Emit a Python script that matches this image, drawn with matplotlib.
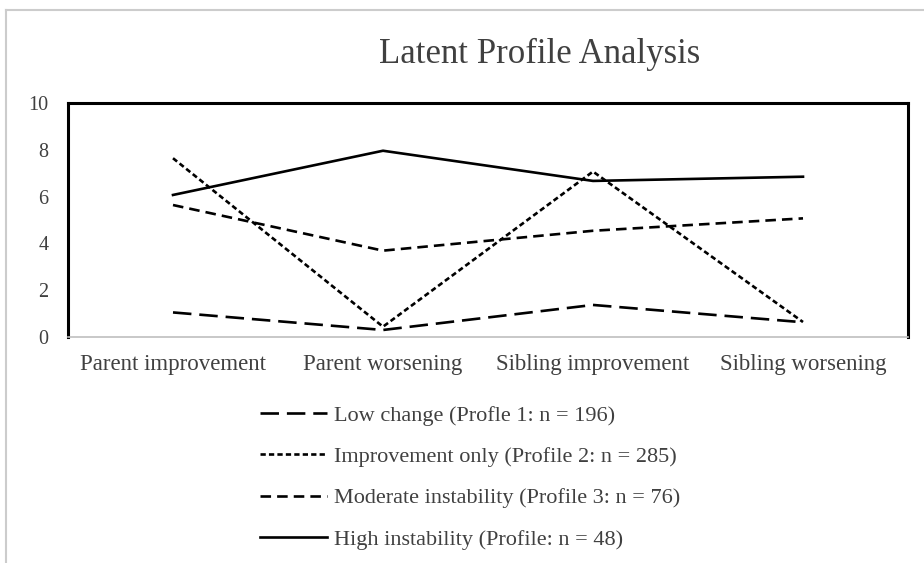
import matplotlib
matplotlib.use("Agg")
import matplotlib.pyplot as plt
from matplotlib.lines import Line2D

categories = ["Parent improvement", "Parent worsening", "Sibling improvement", "Sibling worsening"]
low_change = [1.05, 0.30, 1.37, 0.63]
improvement_only = [7.64, 0.44, 7.07, 0.64]
moderate_instability = [5.64, 3.69, 4.54, 5.07]
high_instability = [6.07, 7.96, 6.67, 6.85]
labels = ["Low change (Profle 1: n = 196)",
          "Improvement only (Profile 2: n = 285)",
          "Moderate instability (Profile 3: n = 76)",
          "High instability (Profile: n = 48)"]
yticks = [0, 2, 4, 6, 8, 10]

plt.rcParams['font.family'] = ['Liberation Serif', 'DejaVu Serif']

fig = plt.figure(figsize=(9.24, 5.63), dpi=100)
W, H = 924, 563
ax = fig.add_axes([68 / W, 1 - 337 / H, (908 - 68) / W, (337 - 103) / H])

x = list(range(len(categories)))
lw = 1.9
l1, = ax.plot(x, low_change, color='black', lw=lw, dashes=(7, 3))
l2, = ax.plot(x, improvement_only, color='black', lw=lw, dashes=(2.0, 1.2))
l3, = ax.plot(x, moderate_instability, color='black', lw=lw, dashes=(4.0, 2.3))
l4, = ax.plot(x, high_instability, color='black', lw=lw)

ax.set_xlim(-0.5, 3.5)
ax.set_ylim(0, 10)
ax.set_yticks(yticks)
ax.set_xticks(x)
ax.set_xticklabels(categories)
ax.tick_params(axis='x', length=0, labelsize=16.5, colors='#404040', pad=12)
ax.tick_params(axis='y', length=0, labelsize=14.5, colors='#404040', pad=14)
for s in ['left', 'top', 'right']:
    ax.spines[s].set_linewidth(2.2)
    ax.spines[s].set_color('black')
ax.spines['bottom'].set_color('#bfbfbf')
ax.spines['bottom'].set_linewidth(1.2)

fig.text(540 / W, 1 - 63 / H, "Latent Profile Analysis", ha='center', va='baseline',
         fontsize=25, color='#404040')

leg = fig.legend([l1, l2, l3, l4], labels, loc='upper left',
                 bbox_to_anchor=(260 / W, 1 - 405 / H), frameon=False,
                 fontsize=16, handlelength=3.0, handletextpad=0.33,
                 labelspacing=0.94, borderpad=0, borderaxespad=0,
                 labelcolor='#404040')

# outer light-gray border (screenshot frame)
fig.add_artist(Line2D([6 / W, 1], [1 - 10 / H, 1 - 10 / H], transform=fig.transFigure,
                      color='#cccccc', lw=1.5))
fig.add_artist(Line2D([6 / W, 6 / W], [0, 1 - 10 / H], transform=fig.transFigure,
                      color='#cccccc', lw=1.5))

fig.savefig("out.png", dpi=100)
